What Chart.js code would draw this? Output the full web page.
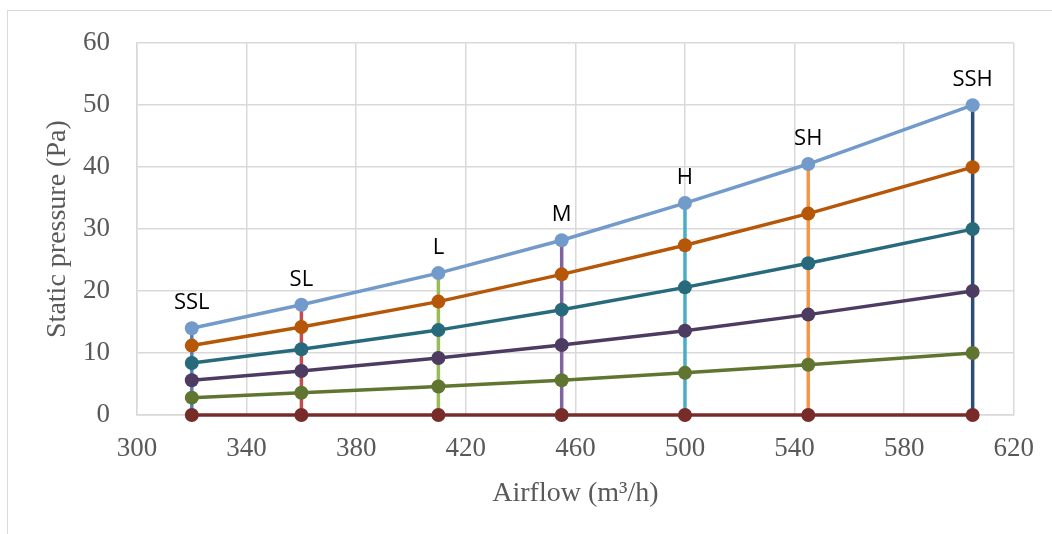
<!DOCTYPE html>
<html>
<head>
<meta charset="utf-8">
<script src="https://cdn.jsdelivr.net/npm/chart.js@4.4.1/dist/chart.umd.min.js"></script>
<style>
    html, body { margin: 0; padding: 0; background: #ffffff; }
    #wrap { position: relative; width: 1052px; height: 534px; overflow: hidden; }
    #frame { position: absolute; left: 7px; top: 10px; width: 1100px; height: 600px;
             border-left: 1px solid #d9d9d9; border-top: 1px solid #d9d9d9; }
    canvas { position: absolute; left: 0; top: 0; }
</style>
</head>
<body>
<div id="wrap">
    <div id="frame"></div>
    <canvas id="fanChart" width="1052" height="534"></canvas>
</div>
<script>
// Fan speed settings and their airflow (m3/h)
const speedLabels = [ 'SSL', 'SL', 'L', 'M', 'H', 'SH', 'SSH' ]
const airflow = [ 320, 360, 410, 455, 500, 545, 605 ]

// Static pressure (Pa) curves
const curve1 = [ 14.0, 17.8, 22.9, 28.2, 34.2, 40.5, 50.0 ]
const curve2 = [ 11.2, 14.2, 18.3, 22.7, 27.4, 32.5, 40.0 ]
const curve3 = [ 8.4, 10.6, 13.7, 17.0, 20.6, 24.5, 30.0 ]
const curve4 = [ 5.6, 7.1, 9.2, 11.3, 13.6, 16.2, 20.0 ]
const curve5 = [ 2.8, 3.6, 4.6, 5.6, 6.8, 8.1, 10.0 ]
const curve6 = [ 0, 0, 0, 0, 0, 0, 0 ]

const xTicks = [ 300, 340, 380, 420, 460, 500, 540, 580, 620 ]
const yTicks = [ 0, 10, 20, 30, 40, 50, 60 ]

const curveColors = [ '#729aca', '#b65708', '#276a7c', '#4d3b62', '#5f7530', '#772c2a' ]
const speedColors = [ '#4f81bd', '#c0504d', '#9bbb59', '#8064a2', '#4bacc6', '#f79646', '#2c4d75' ]

const gridColor = '#d9d9d9'
const textGray = '#595959'
const serif = "'Liberation Serif', 'Times New Roman', serif"

const curves = [ curve1, curve2, curve3, curve4, curve5, curve6 ]

const curveSets = curves.map( ( values, i ) => ( {
    label: 'curve' + ( i + 1 ),
    data: airflow.map( ( a, j ) => ( { x: a, y: values[ j ] } ) ),
    borderColor: curveColors[ i ],
    backgroundColor: curveColors[ i ],
    pointBackgroundColor: curveColors[ i ],
    borderWidth: 3.5,
    pointRadius: 7,
    pointHoverRadius: 7,
    pointBorderWidth: 0,
    tension: 0,
    clip: false,
    order: 1
} ) )

// one vertical line per speed setting, from 0 up to the top curve
const speedSets = speedLabels.map( ( name, i ) => ( {
    label: name,
    data: [ { x: airflow[ i ], y: 0 }, { x: airflow[ i ], y: curve1[ i ] } ],
    borderColor: speedColors[ i ],
    backgroundColor: speedColors[ i ],
    borderWidth: 3.5,
    pointRadius: 0,
    clip: false,
    order: 2
} ) )

const speedLabelPlugin = {
    id: 'speedLabels',
    afterDatasetsDraw ( chart ) {
        const meta = chart.getDatasetMeta( 0 )
        const c = chart.ctx
        c.save()
        c.font = "22px 'Open Sans', sans-serif"
        c.fillStyle = '#000000'
        c.textAlign = 'center'
        c.textBaseline = 'alphabetic'
        meta.data.forEach( ( pt, i ) => {
            c.fillText( speedLabels[ i ], pt.x, pt.y - 19 )
        } )
        c.restore()
    }
}

const ctx = document.getElementById( 'fanChart' ).getContext( '2d' )
const fanChart = new Chart( ctx, {
    type: 'line',
    data: { datasets: [ ...curveSets, ...speedSets ] },
    plugins: [ speedLabelPlugin ],
    options: {
        responsive: false,
        devicePixelRatio: 1,
        animation: false,
        layout: { padding: { top: 41, right: 38, left: 0, bottom: 0 } },
        plugins: {
            legend: { display: false },
            tooltip: { enabled: false }
        },
        scales: {
            x: {
                type: 'linear',
                min: 300,
                max: 620,
                afterBuildTicks: scale => { scale.ticks = xTicks.map( v => ( { value: v } ) ) },
                afterFit: scale => { scale.height = 119 },
                ticks: {
                    color: textGray,
                    font: { family: serif, size: 27 },
                    padding: 18,
                    maxRotation: 0
                },
                grid: { color: gridColor, lineWidth: 1.5, drawTicks: false },
                border: { color: gridColor, width: 1.5 },
                title: {
                    display: true,
                    text: 'Airflow (m³/h)',
                    color: textGray,
                    font: { family: serif, size: 28 },
                    padding: { top: 0, bottom: 24 }
                }
            },
            y: {
                min: 0,
                max: 60,
                afterBuildTicks: scale => { scale.ticks = yTicks.map( v => ( { value: v } ) ) },
                afterFit: scale => { scale.width = 137 },
                ticks: {
                    color: textGray,
                    font: { family: serif, size: 27 },
                    padding: 27
                },
                grid: { color: gridColor, lineWidth: 1.5, drawTicks: false },
                border: { color: gridColor, width: 1.5 },
                title: {
                    display: true,
                    text: 'Static pressure (Pa)',
                    color: textGray,
                    font: { family: serif, size: 28 },
                    padding: { top: 41, bottom: 0 }
                }
            }
        }
    }
} )
</script>
</body>
</html>
